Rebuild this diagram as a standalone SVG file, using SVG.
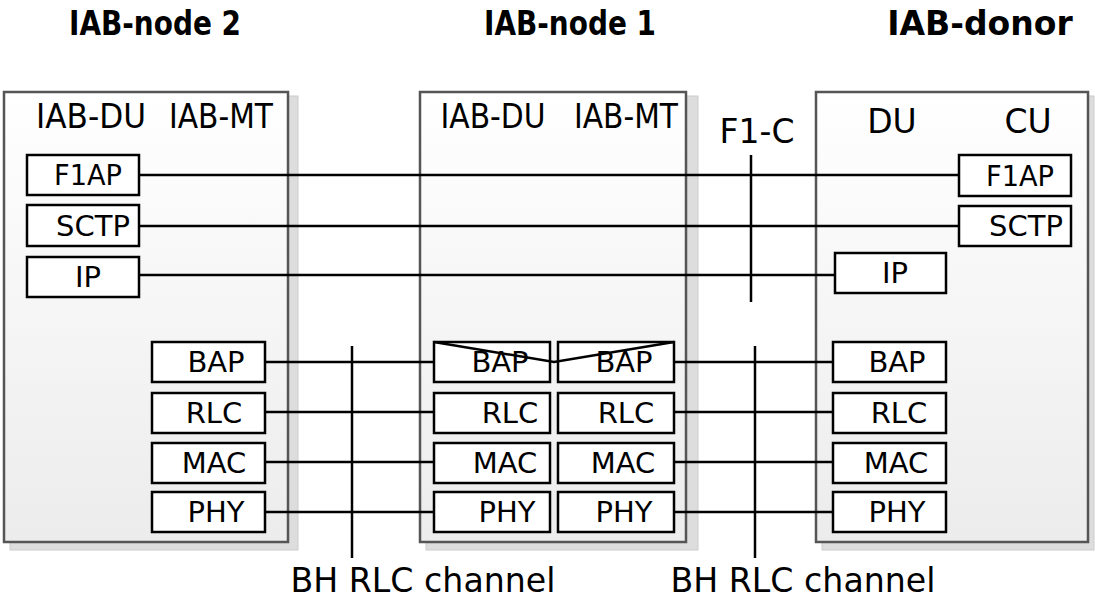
<svg xmlns="http://www.w3.org/2000/svg" width="1095" height="614" viewBox="0 0 1095 614">
<style>
text{font-family:"DejaVu Sans","Liberation Sans",sans-serif;fill:#000}
.t{font-size:33px;font-weight:bold;text-anchor:middle}
.h{font-size:33px;text-anchor:middle}
.b text{font-size:29px;text-anchor:middle}
.big{fill:url(#g);stroke:#555;stroke-width:2.5}
.sh{fill:#ddd;stroke:#ccc}
.b rect{fill:#fff;stroke:#000;stroke-width:2.5}
.c line,.c polyline{stroke:#000;stroke-width:2.5;fill:none}
</style>
<defs><linearGradient id="g" x1="0" y1="0" x2="0" y2="1"><stop offset="0" stop-color="#fff"/><stop offset="1" stop-color="#ececec"/></linearGradient></defs>
<rect width="1095" height="614" fill="#fff"/>
<g id="iab2">
<rect class="sh" x="10" y="96" width="288" height="454"/>
<rect class="big" x="4" y="92" width="284" height="450"/>
<text class="t" x="155" y="35" textLength="172" lengthAdjust="spacingAndGlyphs">IAB-node 2</text>
<text class="h" x="91" y="128" textLength="110" lengthAdjust="spacingAndGlyphs">IAB-DU</text>
<text class="h" x="221" y="128" textLength="104" lengthAdjust="spacingAndGlyphs">IAB-MT</text>
<g class="b">
<rect x="27" y="155" width="112" height="40"/><text x="88" y="185" textLength="68" lengthAdjust="spacingAndGlyphs">F1AP</text>
<rect x="27" y="205" width="112" height="41"/><text x="93" y="236">SCTP</text>
<rect x="27" y="257" width="112" height="40"/><text x="88" y="287">IP</text>
<rect x="152" y="342" width="113" height="40"/><text x="216" y="372">BAP</text>
<rect x="152" y="393" width="113" height="40"/><text x="214" y="423">RLC</text>
<rect x="152" y="443" width="113" height="40"/><text x="214" y="473">MAC</text>
<rect x="152" y="492" width="113" height="40"/><text x="216" y="522">PHY</text>
</g></g>
<g id="iab1">
<rect class="sh" x="426" y="96" width="272" height="454"/>
<rect class="big" x="420" y="92" width="266" height="450"/>
<text class="t" x="570" y="35" textLength="172" lengthAdjust="spacingAndGlyphs">IAB-node 1</text>
<text class="h" x="493" y="128" textLength="105" lengthAdjust="spacingAndGlyphs">IAB-DU</text>
<text class="h" x="626" y="128" textLength="104" lengthAdjust="spacingAndGlyphs">IAB-MT</text>
<g class="b">
<rect x="434" y="342" width="116" height="40"/><text x="500" y="372">BAP</text>
<rect x="434" y="393" width="116" height="40"/><text x="510" y="423">RLC</text>
<rect x="434" y="443" width="116" height="40"/><text x="505" y="473">MAC</text>
<rect x="434" y="492" width="116" height="40"/><text x="507" y="522">PHY</text>
<rect x="558" y="342" width="116" height="40"/><text x="624" y="372">BAP</text>
<rect x="558" y="393" width="116" height="40"/><text x="626" y="423">RLC</text>
<rect x="558" y="443" width="116" height="40"/><text x="623" y="473">MAC</text>
<rect x="558" y="492" width="116" height="40"/><text x="624" y="522">PHY</text>
</g></g>
<g id="donor">
<rect class="sh" x="822" y="96" width="272" height="454"/>
<rect class="big" x="816" y="92" width="272" height="450"/>
<text class="t" x="980" y="35">IAB-donor</text>
<text class="h" x="892" y="133">DU</text>
<text class="h" x="1028" y="133">CU</text>
<g class="b">
<rect x="959" y="155" width="112" height="41"/><text x="1020" y="186" textLength="68" lengthAdjust="spacingAndGlyphs">F1AP</text>
<rect x="959" y="206" width="112" height="40"/><text x="1026" y="236">SCTP</text>
<rect x="835" y="253" width="111" height="40"/><text x="895" y="283">IP</text>
<rect x="833" y="342" width="113" height="40"/><text x="897" y="372">BAP</text>
<rect x="833" y="393" width="113" height="40"/><text x="899" y="423">RLC</text>
<rect x="833" y="443" width="113" height="40"/><text x="896" y="473">MAC</text>
<rect x="833" y="492" width="113" height="40"/><text x="897" y="522">PHY</text>
</g></g>
<g class="c">
<line x1="139" y1="175" x2="959" y2="175"/>
<line x1="139" y1="226" x2="959" y2="226"/>
<line x1="139" y1="275" x2="835" y2="275"/>
<line x1="265" y1="362" x2="434" y2="362"/><line x1="674" y1="362" x2="833" y2="362"/>
<line x1="265" y1="412" x2="434" y2="412"/><line x1="674" y1="412" x2="833" y2="412"/>
<line x1="265" y1="462" x2="434" y2="462"/><line x1="674" y1="462" x2="833" y2="462"/>
<line x1="265" y1="512" x2="434" y2="512"/><line x1="674" y1="512" x2="833" y2="512"/>
<line x1="352" y1="346" x2="352" y2="558"/>
<line x1="751" y1="155" x2="751" y2="302"/>
<line x1="755" y1="346" x2="755" y2="558"/>
<polyline points="434,342 554,362 674,342"/>
</g>
<text class="h" x="757" y="143">F1-C</text>
<text class="h" x="423" y="592" textLength="265" lengthAdjust="spacingAndGlyphs">BH RLC channel</text>
<text class="h" x="803" y="592" textLength="265" lengthAdjust="spacingAndGlyphs">BH RLC channel</text>
</svg>
